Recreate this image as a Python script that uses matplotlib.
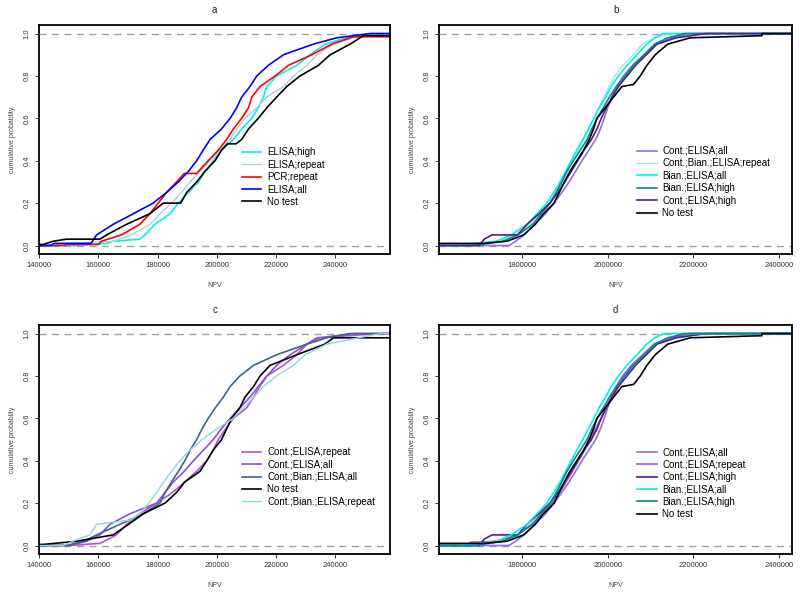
import numpy as np
import matplotlib
matplotlib.use("Agg")
import matplotlib.pyplot as plt

plt.rcParams['font.family'] = ['Liberation Sans', 'DejaVu Sans']

# ---- panel a : NPV (thousands scale) ----
a_labels = ["ELISA;high", "ELISA;repeat", "PCR;repeat", "ELISA;all", "No test"]
a_colors = ["#00F0F0", "#A8D0E0", "#FF0000", "#0000FF", "#000000"]
a_x = [
    [152000, 163000, 165000, 174000, 175700, 179100, 184200, 187000, 190400, 193800, 196000, 198800, 201600,
     205600, 208400, 211800, 214000, 215700, 216900, 220200, 227000, 231500, 236600, 243900, 252900],
    [143600, 150000, 165000, 171200, 177400, 180800, 184700, 188100, 191000, 194300, 197700, 201100, 204500,
     206700, 209500, 213500, 216900, 222500, 225900, 230400, 233800, 239400, 246200, 251800],
    [148700, 149000, 160000, 161000, 167800, 174000, 177400, 180200, 183000, 186400, 189000, 193200, 197100,
     200500, 203300, 205600, 208400, 210700, 211800, 214600, 219700, 224200, 232100, 238800, 246200],
    [144000, 145000, 157500, 159400, 165000, 171800, 178500, 183000, 187000, 190400, 193200, 195400, 197700,
     201600, 204500, 206700, 208400, 211200, 213500, 217400, 222500, 232600, 240500, 251800],
    [141400, 144700, 149200, 160500, 162800, 169500, 177400, 181900, 187800, 189800, 193200, 196000, 199400,
     201600, 203600, 206500, 208400, 210700, 214000, 216900, 220200, 223600, 228100, 234300, 238300, 245000, 249500],
]
a_y = [
    [0.0, 0.01, 0.02, 0.03, 0.05, 0.10, 0.15, 0.20, 0.25, 0.30, 0.35, 0.40, 0.45, 0.50, 0.55, 0.60, 0.65,
     0.70, 0.75, 0.80, 0.85, 0.90, 0.95, 0.98, 1.0],
    [0.0, 0.01, 0.02, 0.05, 0.10, 0.15, 0.20, 0.25, 0.30, 0.35, 0.40, 0.45, 0.50, 0.55, 0.60, 0.65, 0.70,
     0.75, 0.80, 0.85, 0.90, 0.95, 0.98, 1.0],
    [0.0, 0.005, 0.005, 0.02, 0.05, 0.10, 0.15, 0.20, 0.25, 0.30, 0.34, 0.34, 0.40, 0.45, 0.50, 0.55, 0.60,
     0.65, 0.70, 0.75, 0.80, 0.85, 0.90, 0.95, 0.985],
    [0.0, 0.01, 0.01, 0.05, 0.10, 0.15, 0.20, 0.25, 0.30, 0.35, 0.40, 0.45, 0.50, 0.55, 0.60, 0.65, 0.70,
     0.75, 0.80, 0.85, 0.90, 0.95, 0.98, 1.0],
    [0.005, 0.02, 0.03, 0.03, 0.05, 0.10, 0.15, 0.20, 0.20, 0.25, 0.30, 0.35, 0.40, 0.45, 0.48, 0.48, 0.50,
     0.55, 0.60, 0.65, 0.70, 0.75, 0.80, 0.85, 0.90, 0.95, 0.99],
]

# ---- panel c ----
c_labels = ["Cont.;ELISA;repeat", "Cont.;ELISA;all", "Cont.;Bian.;ELISA;all", "No test",
            "Cont.;Bian.;ELISA;repeat"]
c_colors = ["#B84FDA", "#8A4DE0", "#3A668E", "#000000", "#90D6E4"]
c_x = [
    [150000, 160500, 166100, 169500, 174000, 179700, 185000, 189200, 193200, 196600, 198800, 200500, 203000,
     205600, 210100, 212400, 214500, 216900, 222500, 227000, 230400, 233800, 255200],
    [150400, 156000, 160500, 163900, 170700, 179700, 182500, 185300, 189000, 192100, 195500, 198800, 201500,
     204500, 207800, 211200, 214000, 216900, 220200, 224800, 230400, 234900, 246200],
    [149200, 155000, 159400, 167300, 175200, 180800, 182500, 184700, 187000, 189200, 191000, 193200, 195000,
     197100, 199500, 202200, 204500, 207800, 212400, 220200, 230400, 237100, 245000],
    [141400, 152600, 165000, 170200, 175200, 182500, 186400, 189200, 194300, 196600, 198800, 201600, 203300,
     205000, 207800, 209500, 212400, 214600, 218000, 227000, 236500, 239400],
    [148100, 153000, 157100, 159400, 170700, 174000, 177000, 179700, 182000, 184700, 187500, 190900, 195000,
     200000, 205600, 209000, 212500, 215700, 220200, 225900, 229800, 237100, 255200],
]
c_y = [
    [0.0, 0.01, 0.05, 0.10, 0.15, 0.20, 0.25, 0.30, 0.35, 0.40, 0.45, 0.50, 0.55, 0.60, 0.65, 0.70, 0.75,
     0.80, 0.85, 0.90, 0.95, 0.98, 1.0],
    [0.0, 0.02, 0.05, 0.10, 0.15, 0.20, 0.25, 0.30, 0.35, 0.40, 0.45, 0.50, 0.55, 0.60, 0.65, 0.70, 0.75,
     0.80, 0.85, 0.90, 0.95, 0.98, 1.0],
    [0.0, 0.02, 0.05, 0.10, 0.15, 0.20, 0.25, 0.30, 0.35, 0.40, 0.45, 0.50, 0.55, 0.60, 0.65, 0.70, 0.75,
     0.80, 0.85, 0.90, 0.95, 0.98, 1.0],
    [0.005, 0.02, 0.05, 0.10, 0.15, 0.20, 0.25, 0.30, 0.35, 0.40, 0.45, 0.50, 0.55, 0.60, 0.65, 0.70, 0.75,
     0.80, 0.85, 0.90, 0.95, 0.98],
    [0.0, 0.03, 0.05, 0.10, 0.12, 0.15, 0.20, 0.25, 0.30, 0.35, 0.40, 0.45, 0.50, 0.55, 0.60, 0.65, 0.70,
     0.75, 0.80, 0.85, 0.90, 0.95, 1.0],
]

# ---- panels b and d : NPV (millions scale) ----
levels = [0.0, 0.02, 0.05, 0.10, 0.15, 0.20, 0.25, 0.30, 0.35, 0.40, 0.45, 0.50, 0.55, 0.60, 0.65,
          0.70, 0.75, 0.80, 0.85, 0.90, 0.95, 0.98, 1.0]
cont_all_x = [1770000, 1785000, 1805000, 1830000, 1855000, 1875000, 1893000, 1910000, 1925000, 1940000,
              1956000, 1972000, 1983000, 1992000, 2000000, 2010000, 2022000, 2037000, 2058000, 2085000,
              2110000, 2150000, 2200000]
cont_bian_rep_x = [1660000, 1745000, 1785000, 1818000, 1840000, 1862000, 1878000, 1893000, 1906000, 1919000,
                   1931000, 1944000, 1956000, 1968000, 1979000, 1992000, 2003000, 2017000, 2035000, 2060000,
                   2080000, 2110000, 2150000]
bian_all_x = [1650000, 1740000, 1775000, 1812000, 1835000, 1858000, 1874000, 1889000, 1902000, 1915000,
              1928000, 1942000, 1955000, 1968000, 1980000, 1995000, 2008000, 2025000, 2045000, 2068000,
              2091000, 2110000, 2130000]
bian_high_x = [1690000, 1755000, 1790000, 1825000, 1845000, 1866000, 1880000, 1893000, 1905000, 1920000,
               1936000, 1952000, 1963000, 1975000, 1990000, 2004000, 2020000, 2040000, 2060000, 2085000,
               2110000, 2140000, 2180000]
cont_high_x = [1700000, 1712000, 1730000, 1790000, 1812000, 1840000, 1865000, 1884000, 1900000, 1915000,
               1930000, 1945000, 1962000, 1975000, 1985000, 1997000, 2010000, 2025000, 2045000, 2065000,
               2090000, 2115000, 2160000, 2230000]
cont_high_y = [0.0, 0.03, 0.05, 0.05, 0.10, 0.15, 0.20, 0.25, 0.30, 0.35, 0.40, 0.45, 0.50, 0.55, 0.60,
               0.65, 0.70, 0.75, 0.80, 0.85, 0.90, 0.95, 0.98, 1.0]
cont_rep_x = [1670000, 1680000, 1740000, 1790000, 1822000, 1848000, 1870000, 1888000, 1903000, 1918000,
              1932000, 1946000, 1960000, 1972000, 1984000, 1996000, 2008000, 2020000, 2035000, 2055000,
              2082000, 2108000, 2150000, 2190000]
cont_rep_y = [0.0, 0.015, 0.02, 0.05, 0.10, 0.15, 0.20, 0.25, 0.30, 0.35, 0.40, 0.45, 0.50, 0.55, 0.60,
              0.65, 0.70, 0.75, 0.80, 0.85, 0.90, 0.95, 0.98, 1.0]
notest_big_x = [1710000, 1765000, 1804000, 1831000, 1850500, 1875000, 1887000, 1899000, 1912000, 1928000,
                1943800, 1957000, 1967000, 1975000, 1994300, 2013700, 2033200, 2060400, 2076000, 2091500,
                2111000, 2140000, 2192500, 2360000, 2360000]
notest_big_y = [0.01, 0.02, 0.05, 0.10, 0.15, 0.20, 0.25, 0.30, 0.35, 0.40, 0.45, 0.50, 0.55, 0.60, 0.65,
                0.70, 0.75, 0.76, 0.80, 0.85, 0.90, 0.95, 0.98, 0.99, 1.0]

b_labels = ["Cont.;ELISA;all", "Cont.;Bian.;ELISA;repeat", "Bian.;ELISA;all", "Bian.;ELISA;high",
            "Cont.;ELISA;high", "No test"]
b_colors = ["#9370DB", "#A8E4EC", "#00F0F0", "#008B8B", "#551A8B", "#000000"]
b_x = [cont_all_x, cont_bian_rep_x, bian_all_x, bian_high_x, cont_high_x, notest_big_x]
b_y = [levels, levels, levels, levels, cont_high_y, notest_big_y]

d_labels = ["Cont.;ELISA;all", "Cont.;ELISA;repeat", "Cont.;ELISA;high", "Bian.;ELISA;all",
            "Bian.;ELISA;high", "No test"]
d_colors = ["#9370DB", "#B84FDA", "#551A8B", "#00F0F0", "#008B8B", "#000000"]
d_x = [cont_all_x, cont_rep_x, cont_high_x, bian_all_x, bian_high_x, notest_big_x]
d_y = [levels, cont_rep_y, cont_high_y, levels, levels, notest_big_y]

small_lim = (140000, 258500)
big_lim = (1607000, 2430000)
small_ticks = [140000, 160000, 180000, 200000, 220000, 240000]
big_ticks = [1800000, 2000000, 2200000, 2400000]

fig = plt.figure(figsize=(8, 5.93), dpi=100)
ax_a = fig.add_axes([0.049, 0.5717, 0.4385, 0.386])
ax_b = fig.add_axes([0.549, 0.5717, 0.441, 0.386])
ax_c = fig.add_axes([0.049, 0.0658, 0.4385, 0.386])
ax_d = fig.add_axes([0.549, 0.0658, 0.441, 0.386])

panels = [
    (ax_a, "a", a_labels, a_colors, a_x, a_y, small_lim, small_ticks, (0.578, 0.467)),
    (ax_b, "b", b_labels, b_colors, b_x, b_y, big_lim, big_ticks, (0.561, 0.472)),
    (ax_c, "c", c_labels, c_colors, c_x, c_y, small_lim, small_ticks, (0.578, 0.467)),
    (ax_d, "d", d_labels, d_colors, d_x, d_y, big_lim, big_ticks, (0.561, 0.467)),
]

for ax, title, labels, colors, xs, ys, lim, ticks, leg_pos in panels:
    ax.set_xlim(lim)
    ax.set_ylim(-0.04, 1.04)
    ax.axhline(0, color="#A0A0A0", lw=1.0, ls=(0, (5, 4)), zorder=1)
    ax.axhline(1, color="#A0A0A0", lw=1.0, ls=(0, (5, 4)), zorder=1)
    handles = []
    for lab, col, x, y in zip(labels, colors, xs, ys):
        xx = [lim[0]] + list(x) + [lim[1]]
        yy = [y[0]] + list(y) + [y[-1]]
        lw = 1.0 if col in ("#A8D0E0", "#A8E4EC", "#90D6E4") else 1.2
        h, = ax.plot(xx, yy, color=col, lw=lw, label=lab, zorder=2)
        handles.append(h)
    ax.legend(handles=handles, loc="upper left", bbox_to_anchor=leg_pos, frameon=False,
              fontsize=7, handlelength=2.0, handletextpad=0.6, labelspacing=0.25,
              borderpad=0, borderaxespad=0)
    ax.set_xticks(ticks)
    ax.set_xticklabels([str(t) for t in ticks])
    ax.set_yticks([0.0, 0.2, 0.4, 0.6, 0.8, 1.0])
    ax.set_yticklabels(["0.0", "0.2", "0.4", "0.6", "0.8", "1.0"], rotation=90, va="center")
    ax.tick_params(direction="out", length=3, width=0.7, labelsize=5.5, colors="#333333", pad=3)
    for sp in ax.spines.values():
        sp.set_linewidth(1.3)
    ax.set_title(title, fontsize=7, pad=9, color="#222222")
    ax.set_xlabel("NPV", fontsize=5, color="#444444", labelpad=9)
    ax.set_ylabel("cumulative probablity", fontsize=5, color="#444444", labelpad=6)

fig.savefig("out.png", dpi=100)
